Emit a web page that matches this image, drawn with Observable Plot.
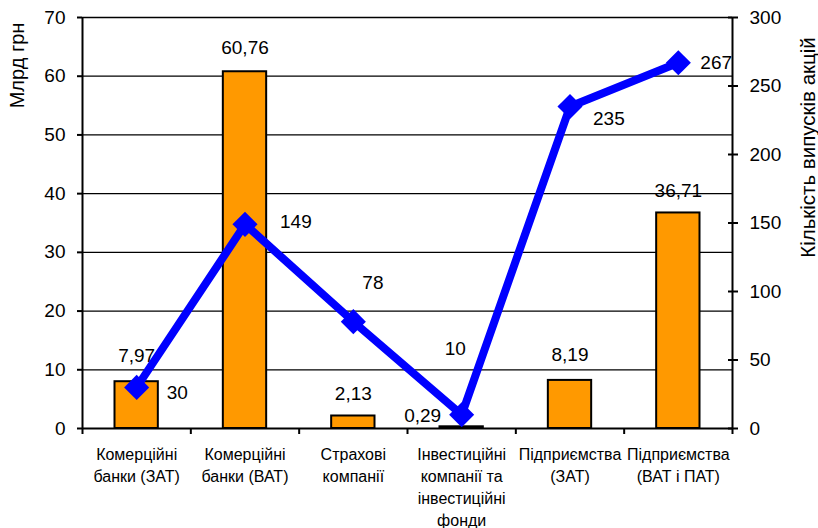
<!DOCTYPE html>
<html><head><meta charset="utf-8">
<script src="https://cdn.jsdelivr.net/npm/d3@7"></script>
<script src="https://cdn.jsdelivr.net/npm/@observablehq/plot@0.6"></script>
<style>body{margin:0;background:#fff} svg{font-family:"Liberation Sans", Arial, sans-serif}</style>
</head><body><div id="chart"></div>
<script>
const categories = ["Комерційні банки (ЗАТ)", "Комерційні банки (ВАТ)", "Страхові компанії", "Інвестиційні компанії та інвестиційні фонди", "Підприємства (ЗАТ)", "Підприємства (ВАТ і ПАТ)"];
const categoryLabels = ["Комерційні\nбанки (ЗАТ)", "Комерційні\nбанки (ВАТ)", "Страхові\nкомпанії", "Інвестиційні\nкомпанії та\nінвестиційні\nфонди", "Підприємства\n(ЗАТ)", "Підприємства\n(ВАТ і ПАТ)"];
const amounts = [7.97, 60.76, 2.13, 0.29, 8.19, 36.71];
const amountLabels = ["7,97", "60,76", "2,13", "0,29", "8,19", "36,71"];
const issues = [30, 149, 78, 10, 235, 267];
const issueLabels = ["30", "149", "78", "10", "235", "267"];
const leftTicks = [0, 10, 20, 30, 40, 50, 60, 70];
const rightTicks = [0, 50, 100, 150, 200, 250, 300];
const leftTitle = "Млрд грн";
const rightTitle = "Кількість випусків акцій";

// label placement (pixels), not data
const amountLabelOffsets = [[0, -26], [0, -24], [0, -22], [-39, -11], [0, -26], [0, -22]];
const issueLabelOffsets = [[30, 6], [35, -2], [9, -39], [-17, -66], [23, 12], [22, 0]];

const leftMax = 70, rightMax = 300, k = leftMax / rightMax;
const idx = d3.range(categories.length);
const font = 19;

const marks = [
  Plot.ruleY(leftTicks.filter(d => d > 0), {stroke: "black", strokeWidth: 1.3}),
  Plot.rectY(idx, {x1: i => i, x2: i => i + 1, y: i => amounts[i], insetLeft: 32.5, insetRight: 32.5, fill: "#FF9900", stroke: "black", strokeWidth: 2}),
  ...idx.map(i => Plot.text([i], {x: j => j + 0.5, y: j => amounts[j], text: j => amountLabels[j], dx: amountLabelOffsets[i][0], dy: amountLabelOffsets[i][1], fontSize: font, fill: "black"})),
  Plot.line(idx, {x: i => i + 0.5, y: i => issues[i] * k, stroke: "#0000FF", strokeWidth: 8}),
  Plot.dot(idx, {x: i => i + 0.5, y: i => issues[i] * k, symbol: "square", r: 10, rotate: 45, fill: "#0000FF", stroke: "none"}),
  ...idx.map(i => Plot.text([i], {x: j => j + 0.5, y: j => issues[j] * k, text: j => issueLabels[j], dx: issueLabelOffsets[i][0], dy: issueLabelOffsets[i][1], textAnchor: "start", fontSize: font, fill: "black"})),
  Plot.ruleX([0, categories.length], {stroke: "black", strokeWidth: 2}),
  Plot.ruleY([0], {stroke: "black", strokeWidth: 2}),
  Plot.axisY({ticks: leftTicks, tickSize: 5, tickPadding: 12, fontSize: font, label: null, strokeWidth: 2}),
  Plot.axisY({anchor: "right", ticks: rightTicks.map(d => d * k), tickSize: 10, dx: -5, tickFormat: () => "", label: null, strokeWidth: 2}),
  Plot.axisY({anchor: "right", ticks: rightTicks.map(d => d * k), tickSize: 0, tickPadding: 17, tickFormat: d => String(Math.round(d / k)), fontSize: font, label: null}),
  Plot.axisX({ticks: d3.range(categories.length + 1), tickSize: 6, tickFormat: () => "", label: null, strokeWidth: 2}),
  Plot.text(idx, {x: i => i + 0.5, text: i => categoryLabels[i], frameAnchor: "bottom", lineAnchor: "top", dy: 16, fontSize: 16, lineHeight: 1.38, fill: "black"}),
  Plot.text([leftTitle], {frameAnchor: "top-left", textAnchor: "middle", lineAnchor: "middle", rotate: -90, dx: -65, dy: 48, fontSize: 20, fill: "black"}),
  Plot.text([rightTitle], {frameAnchor: "top-right", textAnchor: "middle", lineAnchor: "middle", rotate: -90, dx: 76, dy: 130, fontSize: 20.5, fill: "black"})
];

const chart = Plot.plot({
  width: 818, height: 528,
  marginLeft: 82, marginRight: 86, marginTop: 17, marginBottom: 100,
  x: {domain: [0, categories.length], axis: null},
  y: {domain: [0, leftMax], axis: null},
  style: {fontFamily: '"Liberation Sans", Arial, sans-serif', color: "black", background: "white"},
  marks
});
document.getElementById("chart").appendChild(chart);
</script>
</body></html>
